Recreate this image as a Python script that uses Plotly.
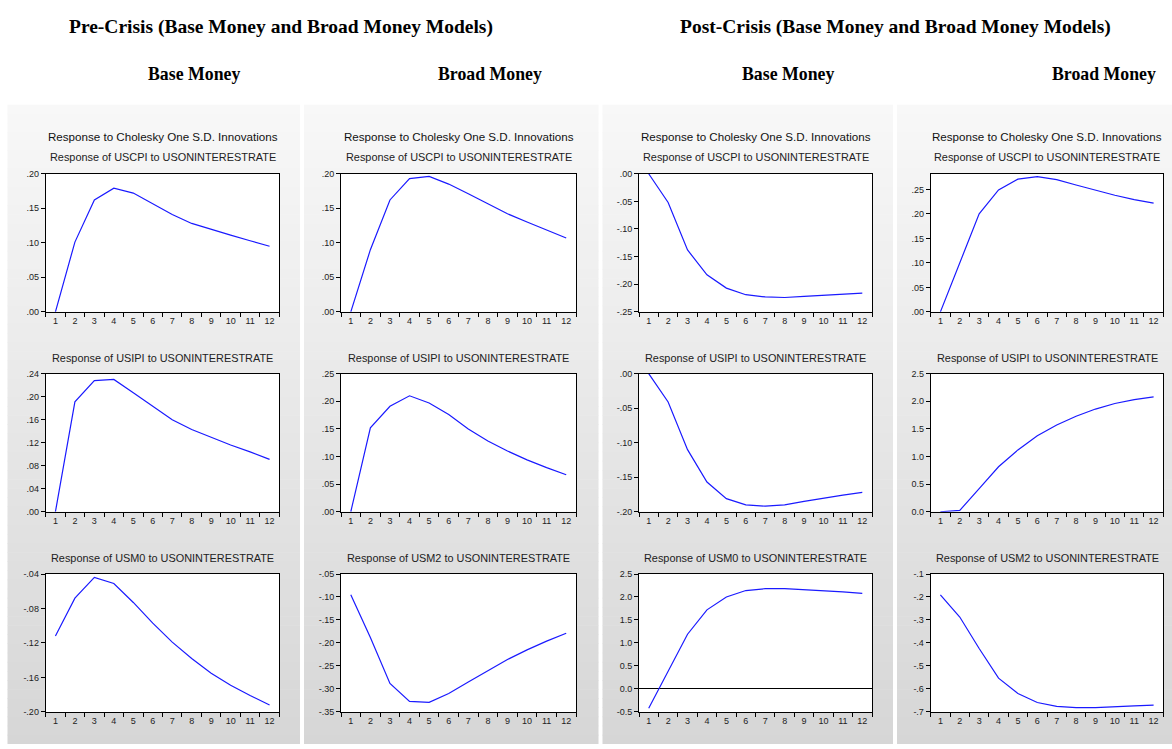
import plotly.graph_objects as go

W, H = 1172, 749
periods = list(range(1, 13))

# ---- data ----
pre_base_cpi = [0.0, 0.101, 0.162, 0.179, 0.172, 0.156, 0.141, 0.128, 0.119, 0.111, 0.103, 0.095]
pre_base_ipi = [0.0, 0.191, 0.228, 0.230, 0.207, 0.183, 0.160, 0.143, 0.129, 0.116, 0.104, 0.091]
pre_base_m0 = [-0.112, -0.068, -0.044, -0.051, -0.073, -0.097, -0.119, -0.138, -0.155, -0.169, -0.181, -0.192]

pre_broad_cpi = [0.0, 0.090, 0.162, 0.193, 0.196, 0.185, 0.171, 0.156, 0.142, 0.130, 0.118, 0.107]
pre_broad_ipi = [0.0, 0.152, 0.191, 0.210, 0.197, 0.176, 0.150, 0.128, 0.110, 0.094, 0.080, 0.067]
pre_broad_m2 = [-0.095, -0.188, -0.288, -0.327, -0.329, -0.310, -0.285, -0.260, -0.236, -0.215, -0.196, -0.179]

post_base_cpi = [0.0, -0.052, -0.138, -0.183, -0.207, -0.219, -0.223, -0.224, -0.222, -0.220, -0.218, -0.216]
post_base_ipi = [0.0, -0.041, -0.110, -0.157, -0.181, -0.190, -0.192, -0.190, -0.185, -0.180, -0.176, -0.172]
post_base_m0 = [-0.42, 0.40, 1.19, 1.72, 2.00, 2.14, 2.18, 2.18, 2.16, 2.14, 2.11, 2.08]

post_broad_cpi = [0.0, 0.101, 0.200, 0.249, 0.271, 0.276, 0.270, 0.259, 0.248, 0.238, 0.229, 0.222]
post_broad_ipi = [0.0, 0.024, 0.42, 0.815, 1.12, 1.375, 1.57, 1.73, 1.86, 1.96, 2.03, 2.08]
post_broad_m2 = [-0.191, -0.287, -0.424, -0.553, -0.620, -0.659, -0.676, -0.681, -0.681, -0.679, -0.674, -0.670]

x_tick_labels = [str(p) for p in periods]

ticks_02_05 = [".00", ".05", ".10", ".15", ".20"]
ticks_024_04 = [".00", ".04", ".08", ".12", ".16", ".20", ".24"]
ticks_m20_m04 = ["-.20", "-.16", "-.12", "-.08", "-.04"]
ticks_025_05 = [".00", ".05", ".10", ".15", ".20", ".25"]
ticks_m35_m05 = ["-.35", "-.30", "-.25", "-.20", "-.15", "-.10", "-.05"]
ticks_m25_00 = ["-.25", "-.20", "-.15", "-.10", "-.05", ".00"]
ticks_m20_00 = ["-.20", "-.15", "-.10", "-.05", ".00"]
ticks_m05_25 = ["-0.5", "0.0", "0.5", "1.0", "1.5", "2.0", "2.5"]
ticks_00_25 = ["0.0", "0.5", "1.0", "1.5", "2.0", "2.5"]
ticks_m7_m1 = ["-.7", "-.6", "-.5", "-.4", "-.3", "-.2", "-.1"]

main_title = "Response to Cholesky One S.D. Innovations"
group_headers = ["Pre-Crisis (Base Money and Broad Money Models)",
                 "Post-Crisis (Base Money and Broad Money Models)"]
col_headers = ["Base Money", "Broad Money", "Base Money", "Broad Money"]

# panels: (col, row, title, values, yrange, tickvals, ticktext, zeroline)
panels = [
    (0, 0, "Response of USCPI to USONINTERESTRATE", pre_base_cpi, [0, 0.20], [0, .05, .10, .15, .20], ticks_02_05, False),
    (0, 1, "Response of USIPI to USONINTERESTRATE", pre_base_ipi, [0, 0.24], [0, .04, .08, .12, .16, .20, .24], ticks_024_04, False),
    (0, 2, "Response of USM0 to USONINTERESTRATE", pre_base_m0, [-0.20, -0.04], [-.20, -.16, -.12, -.08, -.04], ticks_m20_m04, False),
    (1, 0, "Response of USCPI to USONINTERESTRATE", pre_broad_cpi, [0, 0.20], [0, .05, .10, .15, .20], ticks_02_05, False),
    (1, 1, "Response of USIPI to USONINTERESTRATE", pre_broad_ipi, [0, 0.25], [0, .05, .10, .15, .20, .25], ticks_025_05, False),
    (1, 2, "Response of USM2 to USONINTERESTRATE", pre_broad_m2, [-0.35, -0.05], [-.35, -.30, -.25, -.20, -.15, -.10, -.05], ticks_m35_m05, False),
    (2, 0, "Response of USCPI to USONINTERESTRATE", post_base_cpi, [-0.25, 0], [-.25, -.20, -.15, -.10, -.05, 0], ticks_m25_00, False),
    (2, 1, "Response of USIPI to USONINTERESTRATE", post_base_ipi, [-0.20, 0], [-.20, -.15, -.10, -.05, 0], ticks_m20_00, False),
    (2, 2, "Response of USM0 to USONINTERESTRATE", post_base_m0, [-0.5, 2.5], [-0.5, 0, 0.5, 1.0, 1.5, 2.0, 2.5], ticks_m05_25, True),
    (3, 0, "Response of USCPI to USONINTERESTRATE", post_broad_cpi, [0, 0.282], [0, .05, .10, .15, .20, .25], ticks_025_05, False),
    (3, 1, "Response of USIPI to USONINTERESTRATE", post_broad_ipi, [0, 2.5], [0, 0.5, 1.0, 1.5, 2.0, 2.5], ticks_00_25, False),
    (3, 2, "Response of USM2 to USONINTERESTRATE", post_broad_m2, [-0.7, -0.1], [-.7, -.6, -.5, -.4, -.3, -.2, -.1], ticks_m7_m1, False),
]

# ---- layout geometry (pixels) ----
col_x = [(45.7, 279.3), (341, 576), (639, 872), (930.7, 1163.3)]
row_y = [(171, 311), (373.7, 513.6), (576.7, 716.5)]
panel_bg = [(7.5, 300), (304, 598.5), (602.5, 893), (897, 1172)]
bg_top = 101

def px(x):
    return x / W

def py(y):
    return 1 - y / H

fig = go.Figure()
shapes = []
annotations = []

# gradient panel background (strips)
n_strips = 70
for k in range(n_strips):
    y0 = bg_top + (H - bg_top) * k / n_strips
    y1 = bg_top + (H - bg_top) * (k + 1) / n_strips + 0.6
    t = (k + 0.5) / n_strips
    g = int(round(248 - (248 - 214) * t))
    col = f"rgb({g},{g},{g})"
    for (a, b) in panel_bg:
        shapes.append(dict(type="rect", xref="paper", yref="paper", layer="below",
                           x0=px(a), x1=px(b), y0=py(min(y1, H)), y1=py(y0),
                           fillcolor=col, line=dict(width=0)))

font_small = dict(family="Liberation Sans, Arial, sans-serif", size=9, color="#222222")

for i, (c, r, title, vals, yr, tv, tt, zl) in enumerate(panels):
    idx = i + 1
    xa = f"xaxis{idx}" if idx > 1 else "xaxis"
    ya = f"yaxis{idx}" if idx > 1 else "yaxis"
    xr = f"x{idx}" if idx > 1 else "x"
    yrf = f"y{idx}" if idx > 1 else "y"
    (x0, x1), (y0, y1) = col_x[c], row_y[r]
    # white plot area
    shapes.append(dict(type="rect", xref="paper", yref="paper", layer="below",
                       x0=px(x0), x1=px(x1), y0=py(y1), y1=py(y0),
                       fillcolor="white", line=dict(width=0)))
    fig.add_trace(go.Scatter(x=periods, y=vals, mode="lines",
                             line=dict(color="#1a1aff", width=1.2),
                             xaxis=xr, yaxis=yrf, showlegend=False, hoverinfo="skip"))
    fig.layout[xa] = dict(domain=[px(x0), px(x1)], range=[0.5, 12.5], anchor=yrf,
                          tickmode="array", tickvals=periods, ticktext=x_tick_labels,
                          ticks="", showgrid=False, zeroline=False,
                          showline=True, linecolor="black", linewidth=1, mirror=True,
                          tickfont=font_small, fixedrange=True,
                          minor=dict(tickmode="array",
                                     tickvals=[p + 0.5 for p in [0] + periods],
                                     ticks="outside", ticklen=4, tickcolor="black",
                                     tickwidth=1, showgrid=False))
    fig.layout[ya] = dict(domain=[py(y1), py(y0)], range=yr, anchor=xr,
                          tickmode="array", tickvals=tv, ticktext=tt,
                          ticks="outside", ticklen=4, tickcolor="black",
                          showgrid=False, zeroline=zl, zerolinecolor="black", zerolinewidth=1,
                          showline=True, linecolor="black", linewidth=1, mirror=True,
                          tickfont=font_small, fixedrange=True)
    cx = px((x0 + x1) / 2)
    if r == 0:
        annotations.append(dict(text=main_title, x=cx, y=py(133), xref="paper", yref="paper",
                                showarrow=False, xanchor="center", yanchor="middle",
                                font=dict(family="Liberation Sans, Arial, sans-serif", size=11.6, color="#111111")))
        ty = 154.5
    elif r == 1:
        ty = 357.5
    else:
        ty = 560
    annotations.append(dict(text=title, x=cx, y=py(ty), xref="paper", yref="paper",
                            showarrow=False, xanchor="center", yanchor="middle",
                            font=dict(family="Liberation Sans, Arial, sans-serif", size=10.9, color="#222222")))

group_font = dict(family="Liberation Serif, Times New Roman, serif", size=19.5, color="black")
col_font = dict(family="Liberation Serif, Times New Roman, serif", size=17.8, color="black")
for txt, cx in zip(group_headers, [281, 895]):
    annotations.append(dict(text=f"<b>{txt}</b>", x=px(cx), y=py(22), xref="paper", yref="paper",
                            showarrow=False, xanchor="center", yanchor="middle", font=group_font))
for txt, cx in zip(col_headers, [194, 490, 788, 1104]):
    annotations.append(dict(text=f"<b>{txt}</b>", x=px(cx), y=py(70), xref="paper", yref="paper",
                            showarrow=False, xanchor="center", yanchor="middle", font=col_font))

fig.update_layout(width=W, height=H, margin=dict(l=0, r=0, t=0, b=0),
                  paper_bgcolor="white", plot_bgcolor="rgba(0,0,0,0)",
                  shapes=shapes, annotations=annotations, showlegend=False)

fig.write_html("out.html", config={"displayModeBar": False})
